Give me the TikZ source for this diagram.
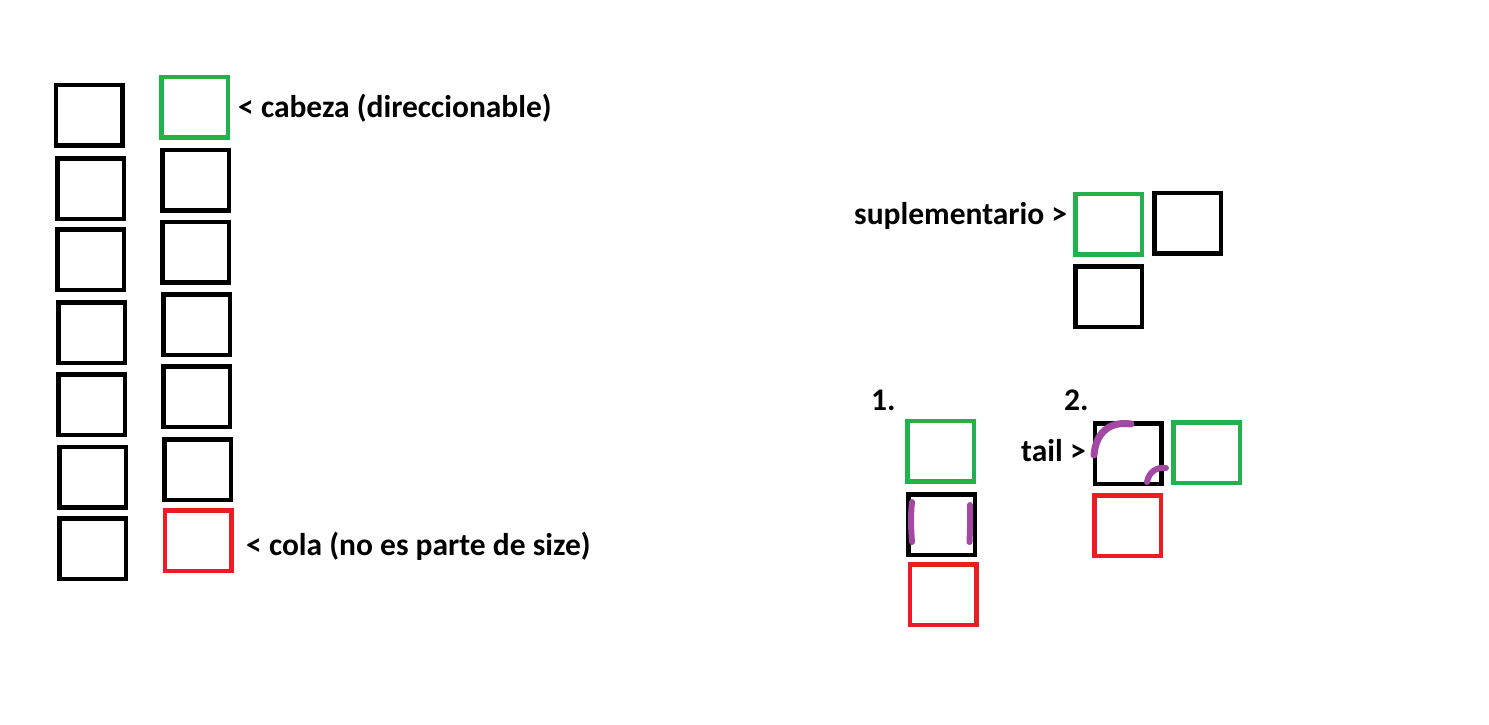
\documentclass[tikz,border=0pt]{standalone}
\usepackage{fontspec}
\setmainfont{Carlito}
\definecolor{pgreen}{RGB}{34,177,76}
\definecolor{pred}{RGB}{237,28,36}
\definecolor{ppurple}{RGB}{163,73,164}
\begin{document}
\begin{tikzpicture}[x=1pt,y=-1pt,
  box/.style={draw=black,line width=4.5pt,minimum width=66.5pt,minimum height=60.5pt,inner sep=0pt,outer sep=0pt},
  gbox/.style={box,draw=pgreen},
  rbox/.style={box,draw=pred},
  lbl/.style={anchor=base west,inner sep=0pt,font=\fontsize{31.5}{36}\selectfont\bfseries},
  scribble/.style={draw=ppurple,line width=6pt,line cap=round}]
\useasboundingbox (0,0) rectangle (1489,724);
% column 1
\node[box] (a1) at (89,115) {};
\node[box] (a2) at (90.5,188.5) {};
\node[box] (a3) at (90.5,259.5) {};
\node[box] (a4) at (91.5,332.5) {};
\node[box] (a5) at (91.5,404.5) {};
\node[box] (a6) at (92.5,477) {};
\node[box] (a7) at (92.5,548.5) {};
% column 2
\node[gbox] (b1) at (194.5,107) {};
\node[box] (b2) at (195.5,180) {};
\node[box] (b3) at (195.5,252) {};
\node[box] (b4) at (196.5,324.5) {};
\node[box] (b5) at (196.5,396.5) {};
\node[box] (b6) at (197.5,469.5) {};
\node[rbox] (b7) at (198,540.5) {};
\node[lbl] (tcab) at (238,117) {< cabeza (direccionable)};
\node[lbl] (tcola) at (246,555) {< cola (no es parte de size)};
% suplementario
\node[lbl] (tsup) at (854,224) {suplementario >};
\node[gbox] (s1) at (1108.5,224) {};
\node[box] (s2) at (1187.5,223) {};
\node[box] (s3) at (1108.5,296.5) {};
% case 1
\node[lbl] (t1) at (871,410) {1.};
\node[gbox] (c1) at (940.5,451) {};
\node[box] (c2) at (941.5,524.5) {};
\node[rbox] (c3) at (943,594.5) {};
\draw[scribble] (912,502) .. controls (910.5,515) and (911,530) .. (912,542);
\draw[scribble] (970,505) .. controls (970.5,518) and (970,530) .. (969.5,542);
% case 2
\node[lbl] (t2) at (1064,410) {2.};
\node[lbl] (ttail) at (1021,461) {tail >};
\node[box] (d1) at (1128,453.5) {};
\node[gbox] (d2) at (1206.5,452.5) {};
\node[rbox] (d3) at (1127.5,525.5) {};
\draw[scribble,line width=7pt] (1094,455) .. controls (1096,432) and (1110,421) .. (1131,424);
\draw[scribble] (1147,482) .. controls (1149,472) and (1156,467) .. (1166,468);
\end{tikzpicture}
\end{document}
